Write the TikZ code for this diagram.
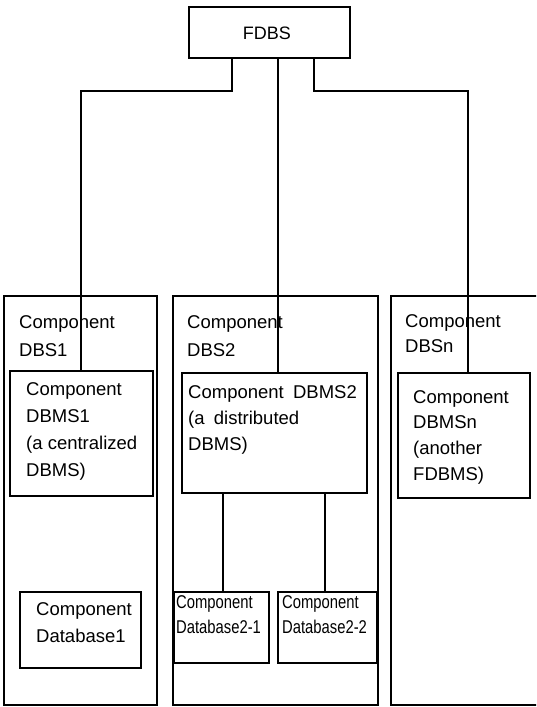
\documentclass[tikz,border=0pt]{standalone}
\usepackage{fontspec}
\usepackage{graphicx}
\setmainfont{Liberation Sans}
\newcommand\txtlines[2]{{\fontsize{18.5}{#1}\selectfont\begin{tabular}[t]{@{}l@{}}#2\end{tabular}}}
\newcommand\condlines[2]{\scalebox{0.8}[1]{\txtlines{#1}{#2}}}
\tikzset{
  box/.style={draw, line width=1.3pt, anchor=north west, inner sep=0pt, outer sep=0pt},
  lbl/.style={anchor=base west, inner sep=0pt},
  conn/.style={line width=1.3pt}
}
\begin{document}
\begin{tikzpicture}[x=1pt,y=-1pt]
\clip (0,0) rectangle (536,707);
% boxes
\node[box, minimum width=161pt, minimum height=51pt] (FDBS) at (189,7) {};
\node[box, minimum width=153pt, minimum height=409pt] (DBS1) at (4,296) {};
\node[box, minimum width=143pt, minimum height=125pt] (DBMS1) at (10,371) {};
\node[box, minimum width=121pt, minimum height=76pt] (DB1) at (20,592) {};
\node[box, minimum width=205pt, minimum height=409pt] (DBS2) at (173,296) {};
\node[box, minimum width=185pt, minimum height=120pt] (DBMS2) at (182,373) {};
\node[box, minimum width=95pt, minimum height=71pt] (DB21) at (174,592) {};
\node[box, minimum width=99pt, minimum height=71pt] (DB22) at (278,592) {};
\node[box, minimum width=170pt, minimum height=409pt] (DBSn) at (391,296) {};
\node[box, minimum width=132pt, minimum height=125pt] (DBMSn) at (398,373) {};
% texts
\node[anchor=base, inner sep=0pt] (tFDBS) at (267,39) {\fontsize{18}{22}\selectfont FDBS};
\node[lbl] (tDBS1) at (19,328) {\txtlines{28pt}{Component\\DBS1}};
\node[lbl] (tDBMS1) at (26,395) {\txtlines{27pt}{Component\\DBMS1\\(a centralized\\DBMS)}};
\node[lbl] (tDB1) at (36,615) {\txtlines{27pt}{Component\\Database1}};
\node[lbl] (tDBS2) at (187,328) {\txtlines{28pt}{Component\\DBS2}};
\node[lbl] (tDBMS2) at (188,398) {\txtlines{26pt}{Component\enspace DBMS2\\(a\enspace distributed\\DBMS)}};
\node[lbl] (tDB21) at (176,608) {\condlines{25pt}{Component\\Database2-1}};
\node[lbl] (tDB22) at (282,608) {\condlines{25pt}{Component\\Database2-2}};
\node[lbl] (tDBSn) at (405,327) {\txtlines{25pt}{Component\\DBSn}};
\node[lbl] (tDBMSn) at (413,403) {\txtlines{25.7pt}{Component\\DBMSn\\(another\\FDBMS)}};
% connector coordinates
\coordinate (a1) at (232,91);
\coordinate (a2) at (81,91);
\coordinate (m1) at (278,91);
\coordinate (c1) at (314,91);
\coordinate (c2) at (468,91);
\coordinate (d1) at (223,540);
\coordinate (d2) at (325,540);
% connectors
\draw[conn] (FDBS.south -| a1) -- (a1) -- (a2) -- (a2 |- DBMS1.north);
\draw[conn] (FDBS.south -| m1) -- (m1 |- DBMS2.north);
\draw[conn] (FDBS.south -| c1) -- (c1) -- (c2) -- (c2 |- DBMSn.north);
\draw[conn] (DBMS2.south -| d1) -- (d1 |- DB21.north);
\draw[conn] (DBMS2.south -| d2) -- (d2 |- DB22.north);
\end{tikzpicture}
\end{document}
